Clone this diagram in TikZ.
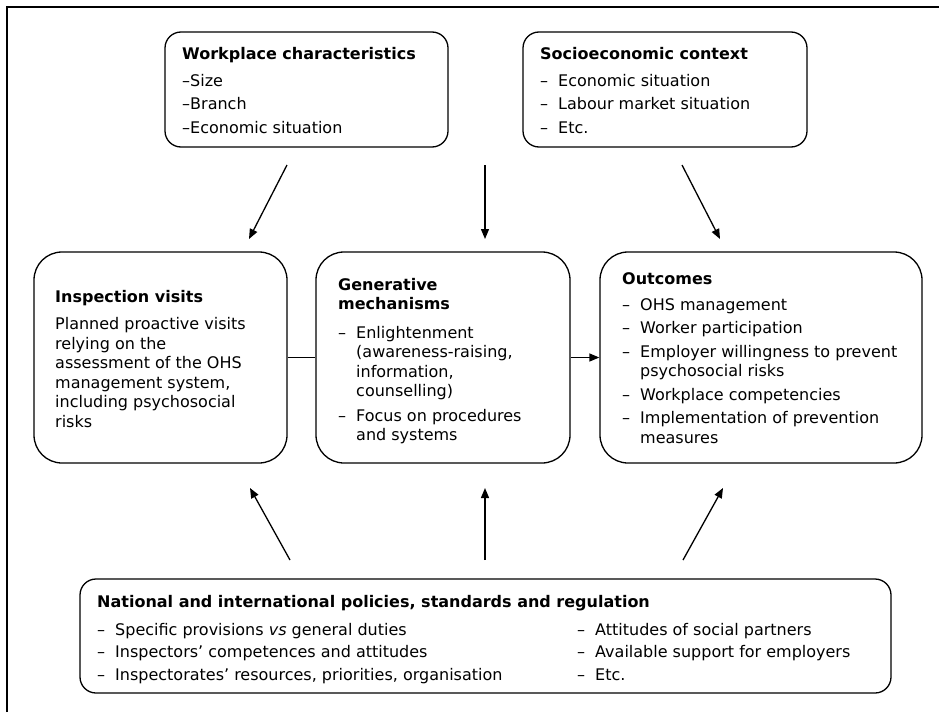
\documentclass[tikz,border=0pt]{standalone}
\usepackage{fontspec}
\setmainfont{DejaVu Sans}
\usetikzlibrary{arrows.meta}
\newcommand\itm{\makebox[18pt][l]{–}}
\newcommand\cnt{\hspace*{18pt}}
\begin{document}
\begin{tikzpicture}[x=1pt,y=-1pt,
  box/.style={draw=black, line width=1.3pt, rounded corners=#1, inner sep=0pt},
  box/.default=16pt,
  txt/.style={anchor=north west, inner sep=0pt, align=left, text=black,
    font={\fontsize{16}{19.5}\selectfont}},
  conn/.style={draw=black, line width=1.3pt},
  arr/.style={conn, -{Triangle[length=10pt,width=8pt]}}]
\useasboundingbox (0,0) rectangle (939,712);
% outer frame (top and left edges visible)
\draw[line width=1.5pt] (7,712) -- (7,7) -- (939,7);

% boxes
\node[box=16pt, minimum width=283pt, minimum height=115pt] (wp) at (306.5,89.5) {};
\node[box=16pt, minimum width=284pt, minimum height=115pt] (se) at (665,89.5) {};
\node[box=28pt, minimum width=253pt, minimum height=211pt] (iv) at (160.5,357.5) {};
\node[box=28pt, minimum width=254pt, minimum height=211pt] (gm) at (443,357.5) {};
\node[box=28pt, minimum width=322pt, minimum height=211pt] (oc) at (761,357.5) {};
\node[box=16pt, minimum width=811pt, minimum height=114pt] (np) at (485.5,636) {};

% texts
\node[txt] (wpt) at (182,47) {\textbf{Workplace characteristics}\\[7.5pt]
  –Size\\[4pt] –Branch\\[4pt] –Economic situation};
\node[txt] (set) at (540,47) {\textbf{Socioeconomic context}\\[7.5pt]
  \itm Economic situation\\[4pt] \itm Labour market situation\\[4pt] \itm Etc.};
\node[txt] (ivt) at (55,290) {\textbf{Inspection visits}\\[8pt]
  Planned proactive visits\\ relying on the\\ assessment of the OHS\\
  management system,\\ including psychosocial\\ risks};
\node[txt] (gmt) at (338,278) {\textbf{Generative}\\ \textbf{mechanisms}\\[9pt]
  \itm Enlightenment\\ \cnt(awareness-raising,\\ \cnt information,\\
  \cnt counselling)\\[5pt] \itm Focus on procedures\\ \cnt and systems};
\node[txt] (oct) at (622,272) {\textbf{Outcomes}\\[6.5pt]
  \itm OHS management\\[4pt] \itm Worker participation\\[4pt]
  \itm Employer willingness to prevent\\ \cnt psychosocial risks\\[4pt]
  \itm Workplace competencies\\[4pt] \itm Implementation of prevention\\
  \cnt measures};
\node[txt] (npt) at (97,595) {\textbf{National and international policies, standards and regulation}\\[8.5pt]
  \itm Specific provisions \textit{vs} general duties\\[3pt]
  \itm Inspectors’ competences and attitudes\\[3pt]
  \itm Inspectorates’ resources, priorities, organisation};
\node[txt] (npr) at (577,623) {\itm Attitudes of social partners\\[3pt]
  \itm Available support for employers\\[3pt] \itm Etc.};

% connector end points
\coordinate (a1s) at (287,165); \coordinate (a1e) at (249,239);
\coordinate (a2s) at (485,165); \coordinate (a2e) at (485,239);
\coordinate (a3s) at (682,165); \coordinate (a3e) at (720,239);
\coordinate (b1s) at (290,560); \coordinate (b1e) at (250,488);
\coordinate (b2s) at (485,560); \coordinate (b2e) at (485,488);
\coordinate (b3s) at (683,560); \coordinate (b3e) at (723,488);

\draw[arr] (a1s) -- (a1e);
\draw[arr] (a2s) -- (a2e);
\draw[arr] (a3s) -- (a3e);
\draw[arr] (b1s) -- (b1e);
\draw[arr] (b2s) -- (b2e);
\draw[arr] (b3s) -- (b3e);
\draw[conn] (iv.east) -- (gm.west);
\draw[arr] (gm.east) -- (oc.west);
\end{tikzpicture}
\end{document}
